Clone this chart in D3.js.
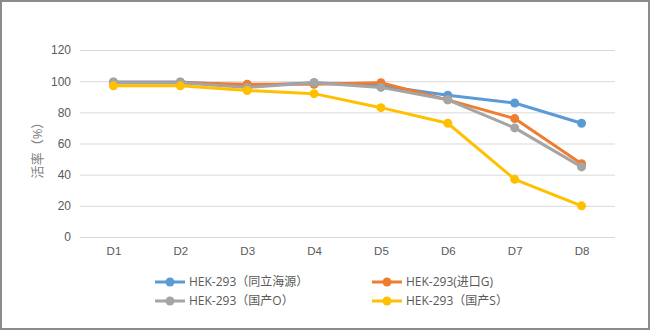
<!DOCTYPE html>
<html><head><meta charset="utf-8">
<script src="https://cdn.jsdelivr.net/npm/d3@7"></script>
<style>body{margin:0;background:#fff}svg{display:block;font-family:"Open Sans","Noto Sans CJK SC",sans-serif}</style>
</head><body><svg id="c" width="650" height="330"></svg>
<script>
const categories = ["D1","D2","D3","D4","D5","D6","D7","D8"];
const seriesNames = ["HEK-293（同立海源）","HEK-293(进口G)","HEK-293（国产O）","HEK-293（国产S）"];
const blueVals = [99.5,99.5,97,99,97,91,86,73];
const orangeVals = [99,99,98,98,99,88,76,47];
const grayVals = [99,99,96,99,96,88,70,45];
const yellowVals = [97,97,94,92,83,73,37,20];
const yTicks = [0,20,40,60,80,100,120];
const colors = ["#5B9BD5","#ED7D31","#A5A5A5","#FFC000"];
const series = [blueVals, orangeVals, grayVals, yellowVals];

const svg = d3.select("#c");
svg.append("rect").attr("x",1).attr("y",1).attr("width",648).attr("height",328).attr("fill","#fff").attr("stroke","#8c8c8c").attr("stroke-width",2);
const x = d3.scalePoint().domain(categories).range([80,615]).padding(0.5);
const y = d3.scaleLinear().domain([0,120]).range([237,50]);

const yAxis = svg.append("g").attr("transform","translate(80,0)")
  .call(d3.axisLeft(y).tickValues(yTicks).tickSize(-535).tickPadding(9));
yAxis.select(".domain").remove();
yAxis.selectAll("line").attr("stroke","#d9d9d9");
yAxis.selectAll("text").attr("fill","#595959").style("font-size","12px");

const xAxis = svg.append("g").attr("transform","translate(0,237)")
  .call(d3.axisBottom(x).tickSize(0).tickPadding(10));
xAxis.select(".domain").remove();
xAxis.selectAll("text").attr("fill","#595959").style("font-size","11.5px");

svg.append("text").attr("transform","translate(37,147) rotate(-90)").attr("text-anchor","middle")
  .attr("dy","0.35em").attr("fill","#7f7f7f").style("font-size","13px").text("活率（%）");

const line = d3.line().x((d,i)=>x(categories[i])).y(d=>y(d));
series.forEach((vals,k)=>{
  svg.append("path").datum(vals).attr("d",line).attr("fill","none")
    .attr("stroke",colors[k]).attr("stroke-width",3).attr("stroke-linejoin","round");
  svg.selectAll(null).data(vals).enter().append("circle")
    .attr("cx",(d,i)=>x(categories[i])).attr("cy",d=>y(d)).attr("r",4.5).attr("fill",colors[k]);
});

const legPos = [[155,282],[372,282],[155,301],[372,301]];
seriesNames.forEach((n,k)=>{
  const [lx,ly] = legPos[k];
  const g = svg.append("g").attr("transform",`translate(${lx},${ly})`);
  g.append("line").attr("x1",0).attr("x2",30).attr("stroke",colors[k]).attr("stroke-width",3);
  g.append("circle").attr("cx",15).attr("r",4.5).attr("fill",colors[k]);
  g.append("text").attr("x",34).attr("dy","0.35em").attr("fill","#595959").style("font-size","12px").text(n);
});
</script></body></html>
